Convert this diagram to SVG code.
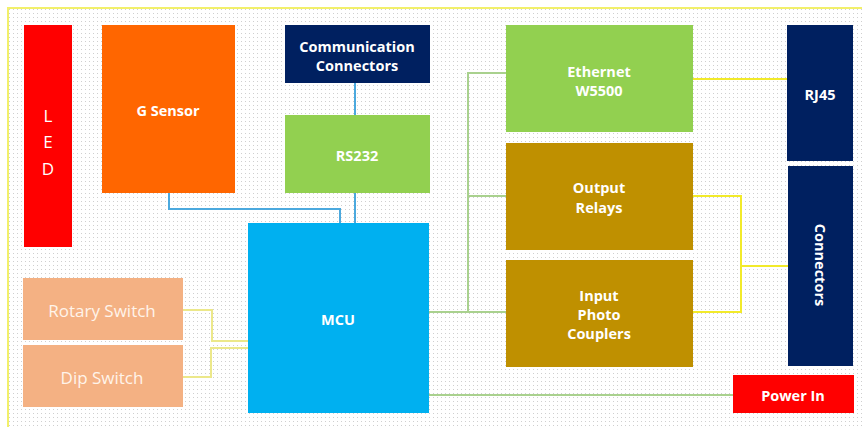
<svg xmlns="http://www.w3.org/2000/svg" width="862" height="427" viewBox="0 0 862 427">
<defs>
<pattern id="dots" width="4" height="4" patternUnits="userSpaceOnUse">
<rect width="4" height="4" fill="#ffffff"/>
<rect x="1" y="1" width="1" height="1" fill="#cfcfcf"/>
</pattern>
<style>
.t{font-family:"Open Sans","Noto Sans","Liberation Sans",sans-serif;font-weight:bold;font-size:14.5px;fill:#ffffff;text-anchor:middle;dominant-baseline:central}
.r{font-family:"Open Sans","Noto Sans","Liberation Sans",sans-serif;font-size:17px;fill:#fff4ea;text-anchor:middle;dominant-baseline:central}
.blue{stroke:#4ba9de;stroke-width:2;fill:none}
.grn{stroke:#a9d18e;stroke-width:2;fill:none}
.yel{stroke:#f2ea2a;stroke-width:2;fill:none}
.ly{stroke:#ece88a;stroke-width:2;fill:none}
</style>
</defs>
<rect x="0" y="0" width="862" height="427" fill="#ffffff"/>
<rect x="8" y="8" width="856" height="421" fill="url(#dots)" stroke="#f2f06a" stroke-width="2"/>
<g id="connectors">
<polyline class="blue" points="169,193 169,209 340,209 340,223"/>
<line class="blue" x1="355" y1="83" x2="355" y2="115"/>
<line class="blue" x1="355" y1="193" x2="355" y2="223"/>
<polyline class="grn" points="506,73 468,73 468,312"/>
<line class="grn" x1="468" y1="196" x2="506" y2="196"/>
<line class="grn" x1="429" y1="312" x2="506" y2="312"/>
<line class="grn" x1="429" y1="395" x2="733" y2="395"/>
<line class="yel" x1="693" y1="79" x2="787" y2="79"/>
<polyline class="yel" points="693,196 741,196 741,312 693,312"/>
<line class="yel" x1="741" y1="266" x2="788" y2="266"/>
<polyline class="ly" points="183,310 212,310 212,341 248,341"/>
<polyline class="ly" points="183,377 211,377 211,348 248,348"/>
</g>
<g id="led">
<rect x="24" y="25" width="48" height="222" fill="#ff0000"/>
<text class="r" x="48" y="115" style="fill:#ffffff">L</text>
<text class="r" x="48" y="141" style="fill:#ffffff">E</text>
<text class="r" x="48" y="168" style="fill:#ffffff">D</text>
</g>
<g id="gsensor">
<rect x="102" y="25" width="133" height="168" fill="#ff6600"/>
<text class="t" x="168" y="110">G Sensor</text>
</g>
<g id="comm">
<rect x="285" y="25" width="145" height="58" fill="#002060"/>
<text class="t" x="357" y="46">Communication</text>
<text class="t" x="357" y="65">Connectors</text>
</g>
<g id="rs232">
<rect x="285" y="115" width="145" height="78" fill="#92d050"/>
<text class="t" x="357" y="155">RS232</text>
</g>
<g id="mcu">
<rect x="248" y="223" width="181" height="190" fill="#00b0f0"/>
<text class="t" x="338" y="319">MCU</text>
</g>
<g id="ethernet">
<rect x="506" y="25" width="187" height="107" fill="#92d050"/>
<text class="t" x="599" y="71">Ethernet</text>
<text class="t" x="599" y="90">W5500</text>
</g>
<g id="relays">
<rect x="506" y="143" width="187" height="107" fill="#bf9000"/>
<text class="t" x="599" y="187">Output</text>
<text class="t" x="599" y="207">Relays</text>
</g>
<g id="input">
<rect x="506" y="260" width="187" height="107" fill="#bf9000"/>
<text class="t" x="599" y="295">Input</text>
<text class="t" x="599" y="314">Photo</text>
<text class="t" x="599" y="333">Couplers</text>
</g>
<g id="rj45">
<rect x="787" y="25" width="66" height="136" fill="#002060"/>
<text class="t" x="820" y="94">RJ45</text>
</g>
<g id="conn">
<rect x="788" y="166" width="65" height="200" fill="#002060"/>
<text class="t" x="0" y="0" transform="translate(820,265) rotate(90)">Connectors</text>
</g>
<g id="power">
<rect x="733" y="375" width="121" height="38" fill="#ff0000"/>
<text class="t" x="793" y="395">Power In</text>
</g>
<g id="rotary">
<rect x="23" y="278" width="160" height="62" fill="#f4b183"/>
<text class="r" x="102" y="310">Rotary  Switch</text>
</g>
<g id="dip">
<rect x="23" y="345" width="160" height="62" fill="#f4b183"/>
<text class="r" x="102" y="377">Dip Switch</text>
</g>
</svg>
